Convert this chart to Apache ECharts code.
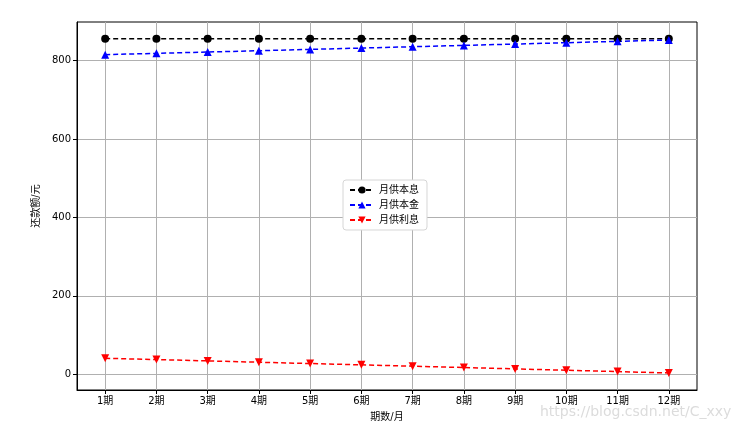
<!DOCTYPE html>
<html>
<head>
<meta charset="utf-8">
<script src="https://cdn.jsdelivr.net/npm/echarts@6/dist/echarts.min.js"></script>
<style>
  html, body { margin: 0; padding: 0; background: #fff; }
  #main { width: 739px; height: 433px; }
</style>
</head>
<body>
<div id="main"></div>
<script>
// 期数 1..12
const periods = [1, 2, 3, 4, 5, 6, 7, 8, 9, 10, 11, 12];
const periodLabels = ['1期', '2期', '3期', '4期', '5期', '6期', '7期', '8期', '9期', '10期', '11期', '12期'];
const yTicks = [0, 200, 400, 600, 800];

// 每月还款 (元)
const payment = [855.62, 855.62, 855.62, 855.62, 855.62, 855.62, 855.62, 855.62, 855.62, 855.62, 855.62, 855.62];
const principal = [814.79, 818.11, 821.45, 824.81, 828.18, 831.56, 834.95, 838.36, 841.79, 845.22, 848.68, 852.14];
const interest = [40.83, 37.51, 34.17, 30.81, 27.44, 24.06, 20.67, 17.26, 13.83, 10.40, 6.94, 3.48];

const cjk = '"DejaVu Sans", "Noto Sans CJK SC", sans-serif';

const myChart = echarts.init(document.getElementById('main'));

function pairs(vals) {
  return periods.map((p, i) => [p, vals[i]]);
}

const option = {
  animation: false,
  backgroundColor: '#fff',
  grid: {
    left: 77, right: 42, top: 22, bottom: 43,
    show: true, borderColor: '#000', borderWidth: 1
  },
  legend: {
    orient: 'vertical',
    left: 343, top: 180,
    itemWidth: 24, itemHeight: 9, itemGap: 5,
    padding: [5, 8, 5, 6],
    borderColor: '#d6d6d6', borderWidth: 1, borderRadius: 3,
    backgroundColor: '#fff',
    textStyle: { fontFamily: cjk, fontSize: 10, color: '#000' },
    data: ['月供本息', '月供本金', '月供利息']
  },
  xAxis: {
    type: 'value',
    min: 0.45, max: 12.55,
    name: '期数/月',
    nameLocation: 'middle',
    nameGap: 22,
    nameTextStyle: { fontFamily: cjk, fontSize: 10, color: '#000' },
    axisLine: { onZero: false, lineStyle: { color: '#000' } },
    axisTick: { customValues: periods, length: 4, lineStyle: { color: '#000' } },
    axisLabel: {
      customValues: periods,
      fontFamily: cjk, fontSize: 10, color: '#000', margin: 6,
      formatter: v => periodLabels[Math.round(v) - 1] || ''
    },
    splitLine: { show: true, lineStyle: { color: '#b0b0b0', width: 1 } }
  },
  yAxis: {
    type: 'value',
    min: -40, max: 898,
    name: '还款额/元',
    nameLocation: 'middle',
    nameGap: 31,
    nameTextStyle: { fontFamily: cjk, fontSize: 10, color: '#000' },
    axisLine: { show: true, onZero: false, lineStyle: { color: '#000' } },
    axisTick: { show: true, customValues: yTicks, length: 4, lineStyle: { color: '#000' } },
    axisLabel: { customValues: yTicks, fontFamily: cjk, fontSize: 10, color: '#000', margin: 6 },
    splitLine: { show: true, lineStyle: { color: '#b0b0b0', width: 1 } }
  },
  series: [
    {
      name: '月供本息', type: 'line', data: pairs(payment),
      symbol: 'circle', symbolSize: 8,
      itemStyle: { color: '#000' },
      lineStyle: { color: '#000', width: 1.5, type: [5, 3] }
    },
    {
      name: '月供本金', type: 'line', data: pairs(principal),
      symbol: 'triangle', symbolSize: 8,
      itemStyle: { color: '#0000ff' },
      lineStyle: { color: '#0000ff', width: 1.5, type: [5, 3] }
    },
    {
      name: '月供利息', type: 'line', data: pairs(interest),
      symbol: 'triangle', symbolRotate: 180, symbolSize: 8,
      itemStyle: { color: '#ff0000' },
      lineStyle: { color: '#ff0000', width: 1.5, type: [5, 3] }
    }
  ],
  graphic: [
    {
      type: 'text', left: 540, top: 405,
      style: {
        text: 'https://blog.csdn.net/C_xxy',
        fill: '#dcdcdc', fontSize: 14, fontFamily: '"DejaVu Sans", sans-serif'
      }
    }
  ]
};

myChart.setOption(option);
</script>
</body>
</html>
